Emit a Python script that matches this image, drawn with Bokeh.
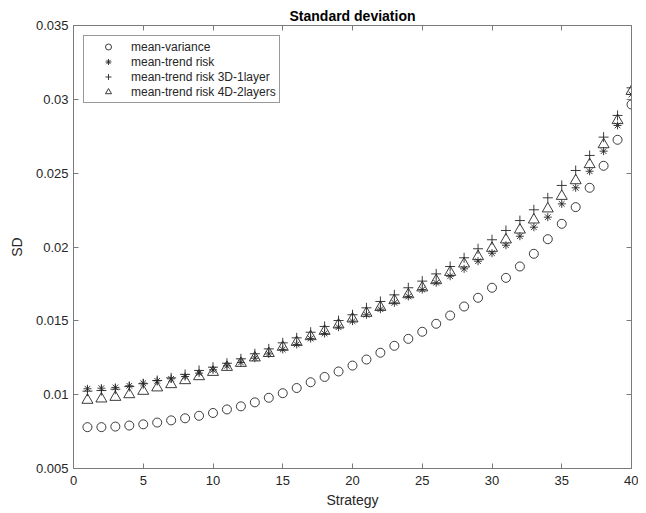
from bokeh.plotting import figure
from bokeh.models import Range1d, LinearAxis, FixedTicker, Legend, LegendItem, ColumnDataSource
from bokeh.embed import file_html
from bokeh.resources import INLINE

# ---- data ----
strategy = list(range(1, 41))
mean_variance = [0.00780, 0.00780, 0.00784, 0.00791, 0.00799, 0.00811, 0.00826, 0.00840, 0.00857, 0.00876,
                 0.00900, 0.00921, 0.00948, 0.00979, 0.01010, 0.01045, 0.01084, 0.01120, 0.01157, 0.01197,
                 0.01238, 0.01284, 0.01331, 0.01378, 0.01426, 0.01480, 0.01536, 0.01597, 0.01656, 0.01724,
                 0.01791, 0.01868, 0.01954, 0.02053, 0.02157, 0.02270, 0.02401, 0.02550, 0.02726, 0.02965]
mean_trend = [0.01040, 0.01044, 0.01049, 0.01060, 0.01078, 0.01094, 0.01107, 0.01123, 0.01146, 0.01168,
              0.01195, 0.01218, 0.01247, 0.01276, 0.01306, 0.01340, 0.01380, 0.01414, 0.01457, 0.01498,
              0.01541, 0.01579, 0.01622, 0.01665, 0.01712, 0.01758, 0.01802, 0.01852, 0.01904, 0.01958,
              0.02012, 0.02073, 0.02134, 0.02202, 0.02292, 0.02401, 0.02513, 0.02649, 0.02823, 0.03033]
mean_trend_3d = [0.01024, 0.01028, 0.01037, 0.01055, 0.01074, 0.01096, 0.01114, 0.01137, 0.01164, 0.01186,
                 0.01213, 0.01243, 0.01277, 0.01310, 0.01351, 0.01385, 0.01423, 0.01462, 0.01502, 0.01541,
                 0.01588, 0.01631, 0.01676, 0.01724, 0.01769, 0.01818, 0.01868, 0.01927, 0.01988, 0.02049,
                 0.02112, 0.02179, 0.02252, 0.02333, 0.02417, 0.02518, 0.02620, 0.02744, 0.02891, 0.03078]
mean_trend_4d = [0.00963, 0.00972, 0.00983, 0.01001, 0.01024, 0.01047, 0.01069, 0.01096, 0.01123, 0.01152,
                 0.01186, 0.01213, 0.01250, 0.01280, 0.01322, 0.01355, 0.01394, 0.01430, 0.01473, 0.01514,
                 0.01552, 0.01592, 0.01638, 0.01678, 0.01724, 0.01773, 0.01829, 0.01886, 0.01936, 0.01992,
                 0.02049, 0.02116, 0.02184, 0.02259, 0.02344, 0.02450, 0.02559, 0.02694, 0.02857, 0.03055]
series_labels = ["mean-variance", "mean-trend risk", "mean-trend risk 3D-1layer", "mean-trend risk 4D-2layers"]
x_ticks = [0, 5, 10, 15, 20, 25, 30, 35, 40]
y_ticks = [0.005, 0.01, 0.015, 0.02, 0.025, 0.03, 0.035]
y_tick_labels = ["0.005", "0.01", "0.015", "0.02", "0.025", "0.03", "0.035"]

FONT = "Liberation Sans"
AXIS_COLOR = "#7a7a7a"
TEXT_COLOR = "#262626"
MARK_COLOR = "#262626"

source = ColumnDataSource(dict(x=strategy, mv=mean_variance, mt=mean_trend, m3=mean_trend_3d, m4=mean_trend_4d))

p = figure(width=638, height=510, x_range=Range1d(0, 40), y_range=Range1d(0.005, 0.035),
           output_backend="svg", toolbar_location=None,
           min_border_left=73, min_border_right=7, min_border_top=25, min_border_bottom=42,
           title="Standard deviation", x_axis_label="Strategy", y_axis_label="SD")
p.title.align = "center"
p.title.text_font = FONT
p.title.text_font_size = "14px"
p.title.text_font_style = "bold"
p.title.text_color = "#000000"
p.title.standoff = 3
p.xgrid.visible = False
p.ygrid.visible = False
p.outline_line_color = None
p.background_fill_color = "white"
p.border_fill_color = "white"

y_overrides = {t: s for t, s in zip(y_ticks, y_tick_labels)}


def style_axis(ax, ticks, show_labels=True):
    ax.ticker = FixedTicker(ticks=ticks)
    ax.axis_line_color = AXIS_COLOR
    ax.axis_line_width = 1
    ax.major_tick_line_color = AXIS_COLOR
    ax.major_tick_in = 5
    ax.major_tick_out = 0
    ax.minor_tick_line_color = None
    ax.major_label_text_font = FONT
    ax.major_label_text_color = TEXT_COLOR
    ax.axis_label_text_font = FONT
    ax.axis_label_text_font_style = "normal"
    ax.axis_label_text_color = TEXT_COLOR
    ax.axis_label_text_font_size = "14px"
    if show_labels:
        ax.major_label_text_font_size = "13px"
    else:
        ax.major_label_text_font_size = "1px"
        ax.major_label_text_color = None
        ax.major_label_standoff = 0


style_axis(p.xaxis[0], x_ticks)
p.xaxis[0].major_label_standoff = 7
p.xaxis[0].axis_label_standoff = 4
style_axis(p.yaxis[0], y_ticks)
p.yaxis[0].major_label_overrides = y_overrides
p.yaxis[0].major_label_standoff = 5
p.yaxis[0].axis_label_standoff = 8

top_axis = LinearAxis()
style_axis(top_axis, x_ticks, show_labels=False)
p.add_layout(top_axis, "above")
right_axis = LinearAxis()
style_axis(right_axis, y_ticks, show_labels=False)
p.add_layout(right_axis, "right")

r_mv = p.scatter("x", "mv", source=source, marker="circle", size=9, fill_alpha=0,
                 line_color=MARK_COLOR, line_width=0.9)
r_mt = p.scatter("x", "mt", source=source, marker="asterisk", size=8,
                 line_color=MARK_COLOR, line_width=0.9)
r_m3 = p.scatter("x", "m3", source=source, marker="cross", size=10,
                 line_color=MARK_COLOR, line_width=0.9)
r_m4 = p.scatter("x", "m4", source=source, marker="triangle", size=11, fill_alpha=0,
                 line_color=MARK_COLOR, line_width=0.9)

legend = Legend(items=[LegendItem(label=lbl, renderers=[r]) for lbl, r in
                       zip(series_labels, [r_mv, r_mt, r_m3, r_m4])],
                location="top_left")
legend.margin = 10
legend.padding = 3
legend.spacing = 0
legend.glyph_width = 42
legend.glyph_height = 15
legend.label_height = 14
legend.label_standoff = 2
legend.label_text_font = FONT
legend.label_text_font_size = "12px"
legend.label_text_color = TEXT_COLOR
legend.border_line_color = "#333333"
legend.border_line_width = 1
legend.background_fill_color = "white"
legend.background_fill_alpha = 1
p.add_layout(legend)

open("out.html", "w").write(file_html(p, INLINE))
